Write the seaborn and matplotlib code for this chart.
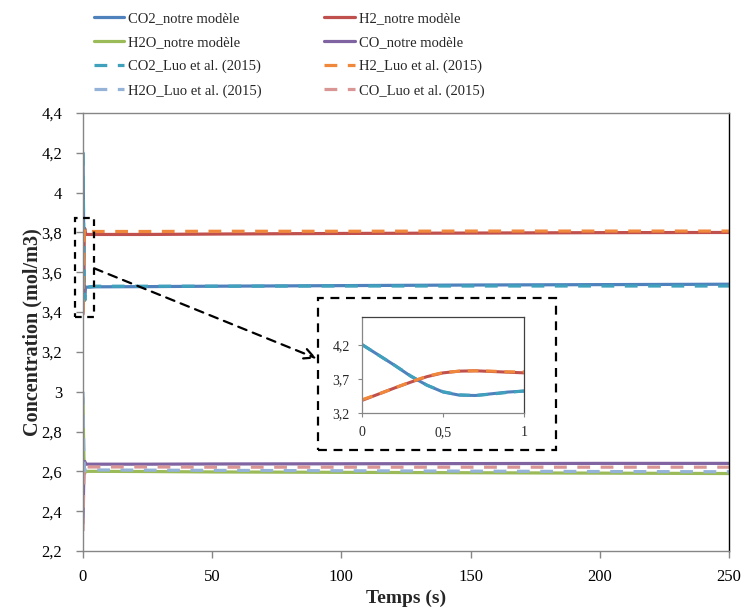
import numpy as np
import pandas as pd
import matplotlib
matplotlib.use("Agg")
import matplotlib.pyplot as plt
import matplotlib.patches as mpatches
from matplotlib.ticker import FuncFormatter, MultipleLocator
import seaborn as sns

# temps (s): transitoire sur la 1re seconde puis régime établi
temps = [0, 0.1, 0.2, 0.3, 0.4, 0.5, 0.6, 0.7, 0.8, 0.9, 1.0, 5, 25, 50, 100, 150, 200, 250]

co2_modele = [4.20, 4.05, 3.90, 3.74, 3.61, 3.51, 3.465, 3.46, 3.485, 3.51, 3.525,
              3.527, 3.528, 3.530, 3.533, 3.536, 3.538, 3.540]
h2_modele = [3.39, 3.48, 3.57, 3.655, 3.735, 3.79, 3.815, 3.82, 3.81, 3.80, 3.79,
             3.790, 3.790, 3.792, 3.795, 3.797, 3.799, 3.800]
h2o_modele = [2.97, 2.88, 2.79, 2.71, 2.65, 2.61, 2.595, 2.59, 2.595, 2.60, 2.60,
              2.600, 2.599, 2.597, 2.595, 2.593, 2.591, 2.589]
co_modele = [2.34, 2.42, 2.49, 2.56, 2.61, 2.64, 2.65, 2.65, 2.645, 2.64, 2.636,
             2.636, 2.636, 2.637, 2.638, 2.639, 2.640, 2.640]

co2_luo = [4.20, 4.05, 3.90, 3.745, 3.61, 3.515, 3.47, 3.46, 3.48, 3.505, 3.525,
           3.530, 3.530, 3.530, 3.531, 3.531, 3.531, 3.531]
h2_luo = [3.40, 3.48, 3.57, 3.66, 3.74, 3.795, 3.815, 3.82, 3.815, 3.805, 3.805,
          3.805, 3.805, 3.806, 3.806, 3.807, 3.807, 3.807]
h2o_luo = [3.00, 2.90, 2.80, 2.72, 2.66, 2.62, 2.60, 2.60, 2.605, 2.607, 2.607,
           2.607, 2.606, 2.605, 2.603, 2.601, 2.599, 2.598]
co_luo = [2.30, 2.38, 2.46, 2.53, 2.59, 2.62, 2.63, 2.63, 2.625, 2.622, 2.622,
          2.622, 2.622, 2.621, 2.621, 2.621, 2.621, 2.621]

series = [
    ("CO2_notre modèle", co2_modele, "#4F81BD", "-"),
    ("H2_notre modèle", h2_modele, "#C0504D", "-"),
    ("H2O_notre modèle", h2o_modele, "#9BBB59", "-"),
    ("CO_notre modèle", co_modele, "#8064A2", "-"),
    ("CO2_Luo et al. (2015)", co2_luo, "#3FA1BC", "--"),
    ("H2_Luo et al. (2015)", h2_luo, "#F0883C", "--"),
    ("H2O_Luo et al. (2015)", h2o_luo, "#95B3D7", "--"),
    ("CO_Luo et al. (2015)", co_luo, "#D99694", "--"),
]

sns.set_theme(style="ticks")
plt.rcParams['font.family'] = ['Liberation Serif', 'DejaVu Serif']

def virgule(v, pos):
    return f"{v:g}".replace('.', ',')

fig = plt.figure(figsize=(7.45, 6.08), dpi=100)
ax = fig.add_axes([0.1114, 0.0938, 0.8671, 0.7203])

handles = {}
for nom, vals, couleur, style in series:
    ls = '-' if style == '-' else (0, (4, 3.3))
    sns.lineplot(x=temps, y=vals, ax=ax, color=couleur, linewidth=2.3, linestyle=ls,
                 label=nom, legend=False)
    handles[nom] = ax.lines[-1]

ax.set_xlim(0, 250)
ax.set_ylim(2.2, 4.4)
ax.xaxis.set_major_locator(MultipleLocator(50))
ax.yaxis.set_major_locator(MultipleLocator(0.2))
ax.yaxis.set_major_formatter(FuncFormatter(virgule))
ax.tick_params(axis='both', labelsize=12, length=5, width=1, color='#868686', labelcolor='black')
ax.tick_params(axis='y', pad=10)
ax.tick_params(axis='x', pad=8)
for s in ['left', 'bottom', 'top']:
    ax.spines[s].set_color('#868686')
    ax.spines[s].set_linewidth(1)
ax.spines['right'].set_color('black')
ax.spines['right'].set_linewidth(1)
ax.set_xlabel('Temps (s)', fontsize=14, fontweight='bold', labelpad=3)
ax.set_ylabel('Concentration (mol/m3)', fontsize=14.5, fontweight='bold', labelpad=-1)

# rectangle de zoom + flèche
zoom_box = mpatches.Rectangle((-3.1, 3.376), 7.4, 0.495, fill=False, edgecolor='black',
                              linewidth=1.6, linestyle=(0, (3, 2.5)), clip_on=False, zorder=5)
ax.add_patch(zoom_box)
ax.annotate('', xy=(90.4, 3.167), xytext=(4.3, 3.62),
            arrowprops=dict(arrowstyle='->', color='black', lw=1.6, linestyle=(0, (4, 3)),
                            mutation_scale=18, shrinkA=0, shrinkB=0), zorder=5)
cadre = mpatches.Rectangle((90.9, 2.706), 92.1, 0.764, fill=True, facecolor='white',
                           edgecolor='black', linewidth=1.6, linestyle=(0, (4, 3)), zorder=4)
ax.add_patch(cadre)

# encart
axin = fig.add_axes([0.4863, 0.3202, 0.2171, 0.1579])
n = 11
for nom, vals, couleur, style in [series[0], series[1], series[4], series[5]]:
    ls = '-' if style == '-' else (0, (3.5, 2.5))
    sns.lineplot(x=temps[:n], y=vals[:n], ax=axin, color=couleur, linewidth=2.2,
                 linestyle=ls, legend=False)
axin.set_xlim(0, 1)
axin.set_ylim(3.2, 4.6)
axin.set_xticks([0, 0.5, 1])
axin.set_yticks([3.2, 3.7, 4.2])
axin.xaxis.set_major_formatter(FuncFormatter(virgule))
axin.yaxis.set_major_formatter(FuncFormatter(virgule))
axin.tick_params(axis='both', labelsize=10, length=3, width=0.8, color='#868686', pad=6)
for s in ['left', 'bottom']:
    axin.spines[s].set_color('#868686')
for s in ['right', 'top']:
    axin.spines[s].set_color('#404040')
for s in axin.spines.values():
    s.set_linewidth(0.9)

ordre = ["CO2_notre modèle", "H2O_notre modèle", "CO2_Luo et al. (2015)", "H2O_Luo et al. (2015)",
         "H2_notre modèle", "CO_notre modèle", "H2_Luo et al. (2015)", "CO_Luo et al. (2015)"]
fig.legend([handles[k] for k in ordre], ordre, ncol=2, loc='upper left',
           bbox_to_anchor=(0.126, 0.981), frameon=False, fontsize=10.5,
           handlelength=2.1, handletextpad=0.25, columnspacing=4.3,
           labelspacing=0.75, borderpad=0, borderaxespad=0)

fig.savefig('out.png', dpi=100)
